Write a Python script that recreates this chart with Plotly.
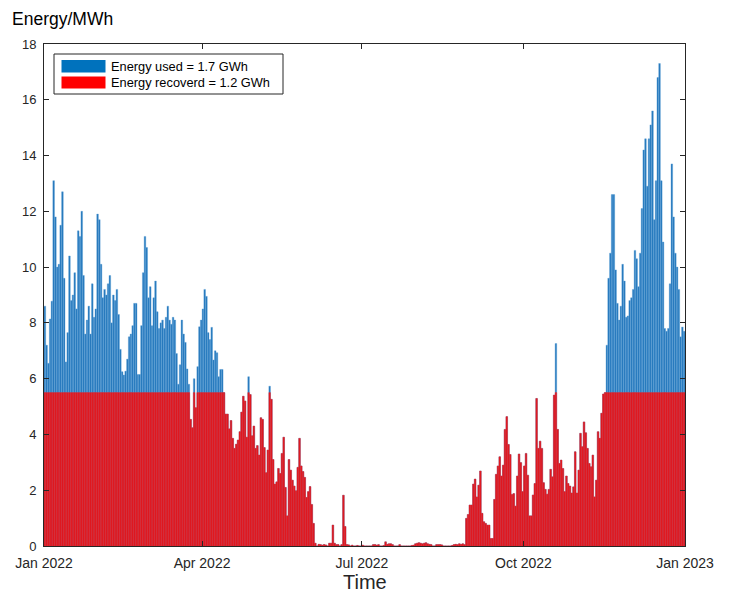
import pandas as pd
import plotly.graph_objects as go

# Daily energy used (MWh), 2022-01-01 .. 2022-12-31
used = [
    8.6, 7.2, 6.55, 8.14, 8.78, 13.1, 11.8, 10.0, 10.1, 11.5,
    12.7, 9.6, 6.6, 7.65, 10.4, 8.8, 9.0, 9.8, 8.5, 11.3,
    11.1, 12.0, 9.7, 7.6, 8.1, 8.6, 7.6, 9.4, 8.2, 8.5,
    11.9, 11.7, 10.1, 8.9, 9.2, 9.0, 9.4, 9.7, 8.0, 9.0,
    8.8, 9.2, 8.3, 7.05, 6.25, 6.13, 6.27, 6.7, 7.5, 7.6,
    7.9, 8.7, 8.7, 6.15, 6.15, 7.9, 9.8, 11.1, 10.7, 8.9,
    9.3, 7.9, 8.9, 9.5, 8.4, 7.8, 8.0, 8.1, 7.8, 8.2,
    8.6, 8.1, 7.95, 8.2, 8.1, 6.9, 5.8, 6.5, 8.1, 7.6,
    7.3, 6.35, 5.8, 4.54, 4.24, 6.0, 4.96, 6.43, 7.86, 8.1,
    8.5, 9.2, 8.95, 7.65, 7.4, 7.84, 6.67, 7.0, 6.93, 6.07,
    6.33, 6.33, 5.5, 4.73, 4.73, 4.2, 4.5, 3.86, 3.5, 3.65,
    3.8, 4.1, 4.8, 5.37, 5.2, 3.9, 6.07, 5.43, 3.95, 4.3,
    3.5, 3.6, 3.26, 4.6, 4.54, 3.53, 2.63, 3.44, 5.73, 5.26,
    3.1, 2.22, 2.3, 2.78, 2.6, 3.32, 3.9, 2.1, 1.08, 3.1,
    2.72, 2.36, 2.15, 1.98, 2.82, 3.86, 2.87, 2.67, 2.46, 1.74,
    1.95, 2.13, 1.49, 0.81, 0.1, 0.0, 0.06, 0.05, 0.03, 0.05,
    0.04, 0.0, 0.1, 0.1, 0.75, 0.1, 0.05, 0.05, 0.0, 0.05,
    1.82, 0.7, 0.05, 0.04, 0.0, 0.03, 0.0, 0.0, 0.02, 0.0,
    0.0, 0.03, 0.0, 0.0, 0.0, 0.0, 0.0, 0.05, 0.05, 0.03,
    0.05, 0.0, 0.0, 0.02, 0.15, 0.06, 0.08, 0.08, 0.05, 0.0,
    0.0, 0.0, 0.05, 0.0, 0.0, 0.0, 0.0, 0.0, 0.0, 0.02,
    0.03, 0.08, 0.1, 0.12, 0.1, 0.08, 0.1, 0.12, 0.08, 0.06,
    0.05, 0.0, 0.0, 0.05, 0.05, 0.05, 0.04, 0.0, 0.0, 0.0,
    0.0, 0.0, 0.02, 0.05, 0.06, 0.05, 0.08, 0.06, 0.08, 0.05,
    0.99, 1.13, 1.47, 1.47, 2.22, 2.4, 1.76, 2.18, 2.69, 1.17,
    0.87, 0.81, 0.75, 0.75, 0.27, 0.27, 1.67, 2.57, 2.87, 3.2,
    2.51, 2.9, 4.18, 4.64, 3.64, 3.28, 1.85, 1.88, 1.43, 2.51,
    3.3, 2.99, 1.95, 2.87, 3.32, 2.54, 1.08, 1.08, 1.83, 2.24,
    5.29, 3.5, 3.76, 3.5, 2.27, 2.03, 1.86, 2.03, 2.75, 2.48,
    5.41, 7.26, 4.18, 2.96, 3.08, 2.78, 1.95, 2.51, 2.24, 2.15,
    1.9, 2.12, 3.38, 1.9, 2.72, 4.04, 3.56, 4.45, 4.06, 3.5,
    2.96, 2.84, 3.26, 1.76, 2.36, 4.1, 3.86, 4.76, 5.45, 5.5,
    7.2, 9.6, 10.5, 12.6, 12.6, 9.9, 8.7, 8.1, 8.6, 10.1,
    9.5, 8.2, 8.25, 8.8, 8.9, 9.2, 10.6, 10.3, 9.3, 10.5,
    12.1, 14.2, 14.6, 12.9, 14.6, 15.1, 15.6, 11.7, 13.1, 16.8,
    17.3, 13.1, 10.9, 7.8, 7.7, 7.8, 9.4, 13.7, 11.8, 10.5,
    10.0, 9.2, 7.5, 7.85, 7.7,
]

# Daily energy recovered (MWh)
recovered = [
    5.5, 5.5, 5.5, 5.5, 5.5, 5.5, 5.5, 5.5, 5.5, 5.5,
    5.5, 5.5, 5.5, 5.5, 5.5, 5.5, 5.5, 5.5, 5.5, 5.5,
    5.5, 5.5, 5.5, 5.5, 5.5, 5.5, 5.5, 5.5, 5.5, 5.5,
    5.5, 5.5, 5.5, 5.5, 5.5, 5.5, 5.5, 5.5, 5.5, 5.5,
    5.5, 5.5, 5.5, 5.5, 5.5, 5.5, 5.5, 5.5, 5.5, 5.5,
    5.5, 5.5, 5.5, 5.5, 5.5, 5.5, 5.5, 5.5, 5.5, 5.5,
    5.5, 5.5, 5.5, 5.5, 5.5, 5.5, 5.5, 5.5, 5.5, 5.5,
    5.5, 5.5, 5.5, 5.5, 5.5, 5.5, 5.5, 5.5, 5.5, 5.5,
    5.5, 5.5, 5.5, 4.54, 4.24, 5.5, 4.96, 5.5, 5.5, 5.5,
    5.5, 5.5, 5.5, 5.5, 5.5, 5.5, 5.5, 5.5, 5.5, 5.5,
    5.5, 5.5, 5.5, 4.73, 4.73, 4.2, 4.5, 3.86, 3.5, 3.65,
    3.8, 4.1, 4.8, 5.37, 5.2, 3.9, 5.5, 5.43, 3.95, 4.3,
    3.5, 3.6, 3.26, 4.6, 4.54, 3.53, 2.63, 3.44, 5.5, 5.26,
    3.1, 2.22, 2.3, 2.78, 2.6, 3.32, 3.9, 2.1, 1.08, 3.1,
    2.72, 2.36, 2.15, 1.98, 2.82, 3.86, 2.87, 2.67, 2.46, 1.74,
    1.95, 2.13, 1.49, 0.81, 0.1, 0.0, 0.06, 0.05, 0.03, 0.05,
    0.04, 0.0, 0.1, 0.1, 0.75, 0.1, 0.05, 0.05, 0.0, 0.05,
    1.82, 0.7, 0.05, 0.04, 0.0, 0.03, 0.0, 0.0, 0.02, 0.0,
    0.0, 0.03, 0.0, 0.0, 0.0, 0.0, 0.0, 0.05, 0.05, 0.03,
    0.05, 0.0, 0.0, 0.02, 0.15, 0.06, 0.08, 0.08, 0.05, 0.0,
    0.0, 0.0, 0.05, 0.0, 0.0, 0.0, 0.0, 0.0, 0.0, 0.02,
    0.03, 0.08, 0.1, 0.12, 0.1, 0.08, 0.1, 0.12, 0.08, 0.06,
    0.05, 0.0, 0.0, 0.05, 0.05, 0.05, 0.04, 0.0, 0.0, 0.0,
    0.0, 0.0, 0.02, 0.05, 0.06, 0.05, 0.08, 0.06, 0.08, 0.05,
    0.99, 1.13, 1.47, 1.47, 2.22, 2.4, 1.76, 2.18, 2.69, 1.17,
    0.87, 0.81, 0.75, 0.75, 0.27, 0.27, 1.67, 2.57, 2.87, 3.2,
    2.51, 2.9, 4.18, 4.64, 3.64, 3.28, 1.85, 1.88, 1.43, 2.51,
    3.3, 2.99, 1.95, 2.87, 3.32, 2.54, 1.08, 1.08, 1.83, 2.24,
    5.29, 3.5, 3.76, 3.5, 2.27, 2.03, 1.86, 2.03, 2.75, 2.48,
    5.41, 5.5, 4.18, 2.96, 3.08, 2.78, 1.95, 2.51, 2.24, 2.15,
    1.9, 2.12, 3.38, 1.9, 2.72, 4.04, 3.56, 4.45, 4.06, 3.5,
    2.96, 2.84, 3.26, 1.76, 2.36, 4.1, 3.86, 4.76, 5.45, 5.5,
    5.5, 5.5, 5.5, 5.5, 5.5, 5.5, 5.5, 5.5, 5.5, 5.5,
    5.5, 5.5, 5.5, 5.5, 5.5, 5.5, 5.5, 5.5, 5.5, 5.5,
    5.5, 5.5, 5.5, 5.5, 5.5, 5.5, 5.5, 5.5, 5.5, 5.5,
    5.5, 5.5, 5.5, 5.5, 5.5, 5.5, 5.5, 5.5, 5.5, 5.5,
    5.5, 5.5, 5.5, 5.5, 5.5,
]

legend_labels = ["Energy used = 1.7 GWh", "Energy recoverd = 1.2 GWh"]
x_tick_dates = ["2022-01-01", "2022-04-01", "2022-07-01", "2022-10-01", "2023-01-01"]
x_tick_text = ["Jan 2022", "Apr 2022", "Jul 2022", "Oct 2022", "Jan 2023"]
y_ticks = [0, 2, 4, 6, 8, 10, 12, 14, 16, 18]

assert len(used) == 365 and len(recovered) == 365

days = pd.date_range("2022-01-01 12:00", periods=len(used), freq="D")

BLUE = "#2176bb"
RED = "#dc1820"
FONT = "Liberation Sans, Arial, Helvetica, sans-serif"
AX = "#262626"

fig = go.Figure()
fig.add_trace(go.Bar(x=days, y=used, name=legend_labels[0],
                     marker=dict(color=BLUE, line=dict(color="#5a9fd6", width=0.4))))
fig.add_trace(go.Bar(x=days, y=recovered, name=legend_labels[1],
                     marker=dict(color=RED, line=dict(color="#f0262c", width=0.4))))

fig.update_layout(
    width=729, height=592,
    margin=dict(l=44, r=44, t=44, b=46),
    paper_bgcolor="white", plot_bgcolor="white",
    barmode="overlay", bargap=0.08,
    showlegend=False,
    font=dict(family=FONT, size=12, color=AX),
)

fig.update_xaxes(
    type="date", range=["2022-01-01", "2023-01-01"],
    tickvals=x_tick_dates, ticktext=x_tick_text,
    ticks="inside", ticklen=5, tickcolor=AX, tickwidth=1,
    showline=True, linecolor=AX, linewidth=1, mirror="ticks",
    showgrid=False, zeroline=False,
    tickfont=dict(size=14, color=AX), ticklabelstandoff=4,
)
fig.update_yaxes(
    range=[0, 18], tickvals=y_ticks,
    ticks="inside", ticklen=5, tickcolor=AX, tickwidth=1,
    showline=True, linecolor=AX, linewidth=1, mirror="ticks",
    showgrid=False, zeroline=False,
    tickfont=dict(size=13, color=AX), ticklabelstandoff=4,
)

# plot area in px: x 44..685, y 44..546
def px_x(p):
    return (p - 44) / 641.0

def px_y(p):
    return (546 - p) / 502.0

annotations = [
    dict(text="Energy/MWh", xref="paper", yref="paper", x=px_x(10), y=px_y(19),
         xanchor="left", yanchor="middle", showarrow=False,
         font=dict(size=17.5, color="#000000", family=FONT)),
    dict(text="Time", xref="paper", yref="paper", x=0.5, y=px_y(582),
         xanchor="center", yanchor="middle", showarrow=False,
         font=dict(size=20, color=AX, family=FONT)),
    dict(text=legend_labels[0], xref="paper", yref="paper", x=px_x(109), y=px_y(66.5),
         xanchor="left", yanchor="middle", showarrow=False,
         font=dict(size=12.8, color="#000000", family=FONT)),
    dict(text=legend_labels[1], xref="paper", yref="paper", x=px_x(109), y=px_y(82.5),
         xanchor="left", yanchor="middle", showarrow=False,
         font=dict(size=12.8, color="#000000", family=FONT)),
]

shapes = [
    dict(type="rect", xref="paper", yref="paper", x0=px_x(54), x1=px_x(283),
         y0=px_y(94), y1=px_y(54), line=dict(color=AX, width=1), fillcolor="white"),
    dict(type="rect", xref="paper", yref="paper", x0=px_x(61.5), x1=px_x(105.5),
         y0=px_y(72.5), y1=px_y(60), line=dict(width=0), fillcolor="#0072BD"),
    dict(type="rect", xref="paper", yref="paper", x0=px_x(61.5), x1=px_x(105.5),
         y0=px_y(88.5), y1=px_y(76.5), line=dict(width=0), fillcolor="#FF0000"),
]

fig.update_layout(annotations=annotations, shapes=shapes)

fig.write_html("out.html", config={"displayModeBar": False},
               post_script="document.body.style.margin='0px';")
